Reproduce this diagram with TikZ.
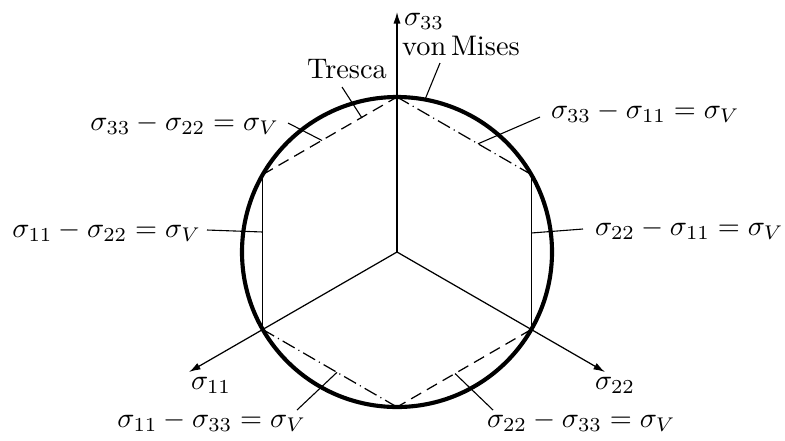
\documentclass[tikz,border=0pt]{standalone}
\usetikzlibrary{arrows.meta}
\newcommand{\lbltext}[1]{\scalebox{1.03}{#1}}
\begin{document}
\begin{tikzpicture}[x=0.3636pt,y=-0.3636pt,
  thinline/.style={line width=0.45pt},
  leader/.style={line width=0.4pt},
  axis/.style={line width=0.45pt,-{Latex[length=4.2pt,width=2.6pt]}},
  vmcircle/.style={line width=1.5pt},
  trescadash/.style={line width=0.45pt,dash pattern=on 4.2pt off 2.4pt},
  trescadashdot/.style={line width=0.45pt,dash pattern=on 5pt off 1.6pt on 0.4pt off 1.6pt},
  lbl/.style={inner sep=0pt,outer sep=0pt}]
\useasboundingbox (0,0) rectangle (785,440);
% centre and hexagon vertices
\coordinate (O) at (397,252);
\coordinate (T) at (397,97);
\coordinate (UL) at (262.8,174.5);
\coordinate (LL) at (262.8,329.5);
\coordinate (B) at (397,407);
\coordinate (LR) at (531.2,329.5);
\coordinate (UR) at (531.2,174.5);
% axis ends
\coordinate (A33) at (397,12);
\coordinate (A11) at (189,372);
\coordinate (A22) at (605,372);
% axes
\draw[axis] (O) -- (A33);
\draw[axis] (O) -- (A11);
\draw[axis] (O) -- (A22);
% von Mises circle
\draw[vmcircle] (O) circle (155);
% Tresca hexagon
\draw[trescadash] (UL) -- (T);
\draw[trescadashdot] (T) -- (UR);
\draw[thinline] (UR) -- (LR);
\draw[trescadash] (LR) -- (B);
\draw[trescadashdot] (B) -- (LL);
\draw[thinline] (LL) -- (UL);
% labels
\node[lbl,anchor=base west] (l33) at (404,25) {\lbltext{$\sigma_{33}$}};
\node[lbl,anchor=base west] (l11) at (191,389) {\lbltext{$\sigma_{11}$}};
\node[lbl,anchor=base west] (l22) at (595,389) {\lbltext{$\sigma_{22}$}};
\node[lbl,anchor=base] (vm) at (461,55) {\lbltext{von\,Mises}};
\node[lbl,anchor=base] (tr) at (347,78) {\lbltext{Tresca}};
\node[lbl,anchor=base east] (e3322) at (279,130) {\lbltext{$\sigma_{33}-\sigma_{22}=\sigma_V$}};
\node[lbl,anchor=base west] (e3311) at (551,118) {\lbltext{$\sigma_{33}-\sigma_{11}=\sigma_V$}};
\node[lbl,anchor=base east] (e1122) at (201,237) {\lbltext{$\sigma_{11}-\sigma_{22}=\sigma_V$}};
\node[lbl,anchor=base west] (e2211) at (595,235) {\lbltext{$\sigma_{22}-\sigma_{11}=\sigma_V$}};
\node[lbl,anchor=base east] (e1133) at (306,427) {\lbltext{$\sigma_{11}-\sigma_{33}=\sigma_V$}};
\node[lbl,anchor=base west] (e2233) at (487,427) {\lbltext{$\sigma_{22}-\sigma_{33}=\sigma_V$}};
% leader end points
\coordinate (trA) at (342,87);   \coordinate (trB) at (362,118);
\coordinate (vmA) at (440,63);   \coordinate (vmB) at (425,99.5);
\coordinate (a3322) at (288,123); \coordinate (b3322) at (322,140.5);
\coordinate (a3311) at (540,117); \coordinate (b3311) at (478,143.8);
\coordinate (a1122) at (207,230); \coordinate (b1122) at (262.8,232);
\coordinate (a2211) at (583,229); \coordinate (b2211) at (531.2,233);
\coordinate (a1133) at (297,410); \coordinate (b1133) at (337,372.3);
\coordinate (a2233) at (493,410); \coordinate (b2233) at (455,373.5);
% leaders
\draw[leader] (trA) -- (trB);
\draw[leader] (vmA) -- (vmB);
\draw[leader] (a3322) -- (b3322);
\draw[leader] (a3311) -- (b3311);
\draw[leader] (a1122) -- (b1122);
\draw[leader] (a2211) -- (b2211);
\draw[leader] (a1133) -- (b1133);
\draw[leader] (a2233) -- (b2233);
\end{tikzpicture}
\end{document}
